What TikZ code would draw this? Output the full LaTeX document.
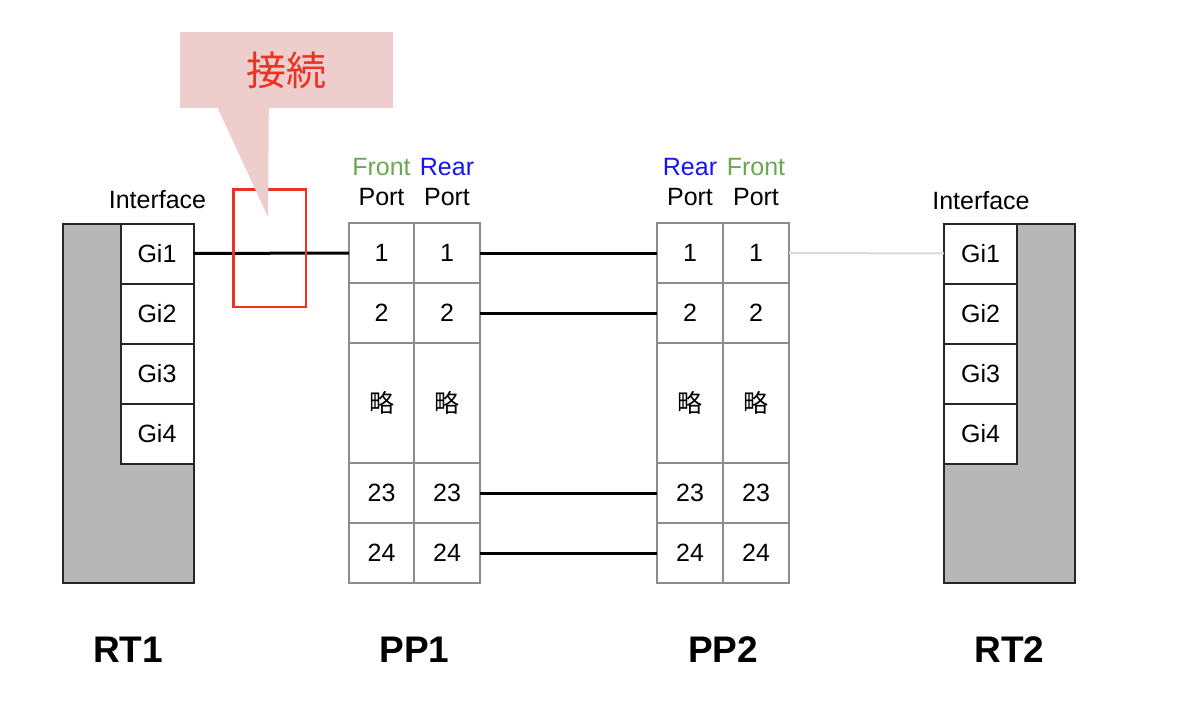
\documentclass[tikz,border=0pt]{standalone}
\usepackage{fontspec}
\setmainfont{Liberation Sans}
\newfontfamily\jpfont{Noto Sans CJK JP}
\usepackage{xcolor}
\usepackage{tikz}
\usetikzlibrary{positioning}
\definecolor{rtgray}{HTML}{B7B7B7}
\definecolor{ppborder}{HTML}{8C8C8C}
\definecolor{frontgreen}{HTML}{6AA84F}
\definecolor{rearblue}{HTML}{1515F0}
\definecolor{callpink}{HTML}{EECDCD}
\definecolor{markred}{HTML}{EA3323}
\definecolor{linkgray}{HTML}{D9D9D9}

\begin{document}
\begin{tikzpicture}[
  x=1pt,y=-1pt,
  node distance=0pt,
  font=\fontsize{25}{30}\selectfont,
  rtbody/.style={draw=black!85,line width=2pt,fill=rtgray,
    minimum width=131pt,minimum height=359pt,inner sep=0pt,outer sep=0pt},
  gicell/.style={draw=black!85,line width=2pt,fill=white,
    minimum width=73pt,minimum height=60pt,inner sep=0pt,outer sep=0pt},
  ppcell/.style={draw=ppborder,line width=2pt,fill=white,
    minimum width=65.5pt,minimum height=60pt,inner sep=0pt,outer sep=0pt},
  ppgap/.style={ppcell,minimum height=120pt},
  devname/.style={anchor=base,font=\fontsize{37}{40}\selectfont\bfseries},
  cable/.style={line width=3pt,draw=black},
  idle/.style={line width=2pt,draw=linkgray}
]
  \useasboundingbox (0,0) rectangle (1200,717);

  % routers
  \node[rtbody] (rt1) at (128,403) {};
  \node[gicell,anchor=north east] (rt1gi1) at (rt1.north east) {Gi1};
  \foreach \i [count=\j from 2] in {1,2,3}
    \node[gicell,below=of rt1gi\i] (rt1gi\j) {Gi\j};

  \node[rtbody] (rt2) at (1009.5,403) {};
  \node[gicell,anchor=north west] (rt2gi1) at (rt2.north west) {Gi1};
  \foreach \i [count=\j from 2] in {1,2,3}
    \node[gicell,below=of rt2gi\i] (rt2gi\j) {Gi\j};

  \node[anchor=base] (rt1if) at (157.5,208) {Interface};
  \node[anchor=base] (rt2if) at (981,209) {Interface};

  % patch panels
  \foreach \pp/\x in {pp1a/381.5,pp1b/447,pp2a/690,pp2b/756} {
    \node[ppcell] (\pp1) at (\x,253) {1};
    \node[ppcell,below=of \pp1] (\pp2) {2};
    \node[ppgap,below=of \pp2] (\pp-s) {\jpfont 略};
    \node[ppcell,below=of \pp-s] (\pp23) {23};
    \node[ppcell,below=of \pp23] (\pp24) {24};
  }

  \node[anchor=base,text=frontgreen] (pp1afront) at (381.5,175) {Front};
  \node[anchor=base,text=rearblue] (pp1brear) at (447,175) {Rear};
  \node[anchor=base,text=rearblue] (pp2arear) at (690,175) {Rear};
  \node[anchor=base,text=frontgreen] (pp2bfront) at (756,175) {Front};
  \foreach \pp/\x in {pp1a/381.5,pp1b/447,pp2a/690,pp2b/756}
    \node[anchor=base] (\pp port) at (\x,205) {Port};

  % cables
  \draw[cable] (rt1gi1) -- (pp1a1);
  \foreach \r in {1,2,23,24}
    \draw[cable] (pp1b\r) -- (pp2a\r);
  \draw[idle] (pp2b1) -- (rt2gi1);

  % device names
  \node[devname] (rt1name) at (128,662) {RT1};
  \node[devname] (pp1name) at (414.5,662) {PP1};
  \node[devname] (pp2name) at (723,662) {PP2};
  \node[devname] (rt2name) at (1009.5,662) {RT2};

  % callout
  \node[draw=markred,line width=2.5pt,minimum width=72.5pt,minimum height=117.5pt,
    inner sep=0pt] (mark) at (269.5,248) {};
  \node[fill=callpink,minimum width=213pt,minimum height=76pt,inner sep=0pt,
    font=\jpfont\fontsize{40}{44}\selectfont,text=markred] (callout) at (286.5,70) {接続};
  \coordinate (tip) at (268,217);
  \fill[callpink] ([xshift=38pt]callout.south west) -- ([xshift=89pt]callout.south west)
    -- (tip) -- cycle;
\end{tikzpicture}
\end{document}
